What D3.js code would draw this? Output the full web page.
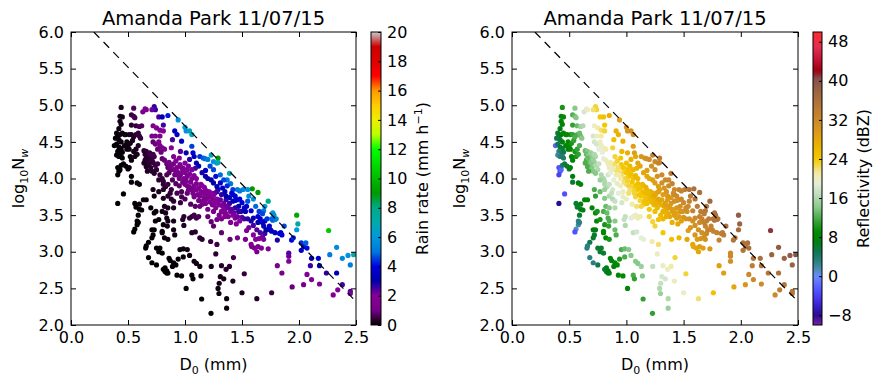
<!DOCTYPE html>
<html>
<head>
<meta charset="utf-8">
<script src="https://cdn.jsdelivr.net/npm/d3@7"></script>
<style>
body { margin: 0; background: #fff; }
svg text { font-family: "DejaVu Sans", sans-serif; fill: #000; }
</style>
</head>
<body>
<div id="chart"></div>
<script>
// rows: [D0 (mm), log10 Nw, rain rate (mm/h), reflectivity (dBZ)]
const leftColumn = [
  [0.44,4.97,0.25,10],[0.43,4.85,0.17,8],[0.45,4.84,0.2,9],[0.43,4.78,0.14,8],[0.44,4.74,0.14,8],
  [0.42,4.68,0.1,7],[0.40,4.62,0.07,6],[0.41,4.58,0.07,6],[0.43,4.60,0.1,7],[0.45,4.62,0.12,8],
  [0.47,4.60,0.14,9],[0.39,4.55,0.05,5],[0.42,4.53,0.07,6],[0.44,4.50,0.08,7],[0.38,4.45,0.04,-2],
  [0.40,4.47,0.05,5],[0.42,4.43,0.06,6],[0.44,4.41,0.07,6],[0.41,4.37,0.04,3],[0.43,4.35,0.05,4],
  [0.45,4.36,0.07,5],[0.40,4.32,0.04,2],[0.42,4.30,0.04,3],[0.44,4.30,0.05,4],[0.47,4.45,0.1,8],
  [0.49,4.50,0.14,9],[0.50,4.45,0.13,9],[0.52,4.48,0.17,10],[0.54,4.52,0.23,11],[0.49,4.40,0.11,8],
  [0.51,4.40,0.13,9],[0.51,4.60,0.21,10],[0.48,4.60,0.16,9],[0.53,4.60,0.25,11],[0.55,4.57,0.28,12],
  [0.41,4.15,0.03,-3],[0.42,4.10,0.03,-3],[0.41,4.05,0.02,-4],[0.43,4.12,0.03,-2],[0.44,4.18,0.04,4],
  [0.46,4.20,0.05,5],[0.48,4.17,0.06,6],[0.50,4.13,0.06,6],[0.51,4.15,0.07,7],[0.46,3.79,0.02,-3],
  [0.41,3.66,0.01,-8],[0.53,4.03,0.07,7],[0.53,3.95,0.06,6],[0.58,3.94,0.08,7],[0.60,3.92,0.1,8],
  [0.56,4.30,0.17,10],[0.55,4.37,0.18,10],[0.57,4.40,0.22,11],[0.59,4.45,0.3,12],[0.58,4.33,0.2,11],
  [0.45,4.28,0.06,4],[0.52,4.30,0.11,8],[0.53,4.25,0.11,8]
];

const upperLeft = [
  [0.55,4.96,0.69,14],[0.53,4.87,0.47,12],[0.55,4.85,0.54,13],[0.56,4.83,0.56,14],[0.53,4.73,0.34,11],
  [0.57,4.72,0.47,13],[0.60,4.71,0.59,15],[0.62,4.72,0.69,16],[0.65,4.95,1.5,19],[0.63,4.91,1.2,18],
  [0.66,4.94,1.5,20],[0.57,4.60,0.35,12],[0.60,4.58,0.44,13],[0.61,4.55,0.44,14],[0.59,4.62,0.44,13]
];

const darkCluster = [
  [0.64,4.38,0.36,13],[0.66,4.37,0.42,14],[0.65,4.33,0.35,13],[0.67,4.32,0.4,14],[0.69,4.35,0.49,15],
  [0.70,4.30,0.47,15],[0.68,4.28,0.39,14],[0.72,4.33,0.56,16],[0.73,4.30,0.56,16],[0.65,4.25,0.3,12],
  [0.67,4.22,0.32,13],[0.68,4.19,0.32,13],[0.66,4.16,0.26,12],[0.70,4.15,0.33,14],[0.72,4.22,0.44,15],
  [0.74,4.18,0.46,16],[0.75,4.12,0.43,16],[0.76,4.20,0.55,17],[0.71,4.10,0.32,14],[0.73,4.07,0.33,14],
  [0.69,4.22,0.36,14],[0.71,4.26,0.46,15],[0.66,4.28,0.34,13],[0.64,4.21,0.25,12],[0.67,4.10,0.24,12],
  [0.78,4.05,0.43,16],[0.80,4.00,0.44,16],[0.77,3.98,0.35,15],[0.81,3.96,0.42,16],[0.81,3.92,0.38,16],
  [0.83,3.89,0.4,16],[0.85,3.92,0.48,17],[0.88,3.85,0.48,18],[0.72,3.85,0.19,12],[0.73,3.76,0.16,11],
  [0.77,3.82,0.24,13],[0.81,3.85,0.32,15],[0.81,3.73,0.25,14],[0.85,3.76,0.33,16],[0.87,3.80,0.41,17],
  [0.88,3.72,0.35,16],[0.90,3.69,0.37,17],[0.82,3.62,0.2,13],[0.85,3.60,0.23,14],[0.90,3.60,0.3,16],
  [0.96,3.67,0.48,18]
];

const lowerLeft = [
  [0.56,3.66,0.04,6],[0.57,3.61,0.04,6],[0.60,3.58,0.04,7],[0.62,3.57,0.05,7],[0.60,3.65,0.05,7],
  [0.59,3.50,0.03,6],[0.58,3.42,0.03,3],[0.58,3.37,0.02,2],[0.56,3.31,0.02,1],[0.55,3.27,0.01,-3],
  [0.635,3.71,0.08,8],[0.66,3.71,0.09,9],[0.59,3.40,0.03,3]
];

const blackTail = [
  [0.70,3.60,0.09,8],[0.73,3.53,0.1,9],[0.745,3.55,0.11,10],[0.80,3.55,0.15,12],[0.83,3.53,0.17,13],
  [0.84,3.46,0.16,12],[0.85,3.42,0.15,12],[0.74,3.42,0.08,8],[0.77,3.44,0.1,10],[0.81,3.37,0.11,10],
  [0.845,3.35,0.13,11],[0.90,3.42,0.2,14],[0.90,3.30,0.15,13],[0.91,3.23,0.13,12],[0.71,3.30,0.05,7],
  [0.73,3.30,0.06,7],[0.72,3.23,0.04,6],[0.71,3.19,0.04,6],[0.68,3.13,0.03,5],[0.66,3.08,0.02,3],
  [0.655,3.05,0.02,3],[0.68,2.92,0.02,3],[0.71,2.85,0.02,3],[0.75,2.82,0.02,5],[0.75,3.05,0.04,6],
  [0.77,3.00,0.04,6],[0.78,3.05,0.04,6],[0.80,2.98,0.04,6],[0.80,3.28,0.08,9],[0.80,3.26,0.08,9],
  [0.82,3.19,0.08,9],[0.85,3.17,0.09,10],[0.86,2.91,0.05,8],[0.87,2.88,0.05,8],[0.90,2.85,0.05,8],
  [0.89,2.80,0.05,8],[0.825,2.78,0.03,7],[0.825,2.73,0.03,6],[0.84,2.71,0.03,7],[0.85,2.71,0.03,7],
  [0.81,2.76,0.03,6],[0.84,2.74,0.03,7],[0.97,2.67,0.05,9],[0.956,3.03,0.11,12],[0.985,3.04,0.13,13],
  [1.02,3.03,0.14,14],[1.04,2.95,0.13,14],[0.985,2.93,0.1,12],[1.08,2.87,0.13,14],[1.10,2.84,0.13,14],
  [1.13,2.80,0.14,15],[1.14,2.67,0.11,14],[1.06,2.68,0.08,12],[1.07,2.63,0.07,11],[1.01,2.50,0.04,8],
  [1.146,2.355,0.05,11],[1.228,2.16,0.05,11],[0.93,2.68,0.04,8],[0.92,2.82,0.06,9],[0.94,2.90,0.07,10]
];

const lowerScatter = [
  [0.99,3.48,0.35,17],[0.98,3.44,0.31,17],[0.99,3.36,0.27,16],[1.06,3.48,0.49,20],[1.04,3.46,0.43,19],
  [1.10,3.46,0.55,20],[1.06,3.26,0.3,17],[1.09,3.27,0.34,18],[1.13,3.19,0.34,19],[1.15,3.17,0.35,19],
  [1.20,3.48,0.87,23],[1.23,3.41,0.83,23],[1.25,3.35,0.78,23],[1.225,3.14,0.44,21],[1.28,3.10,0.49,22],
  [1.32,3.26,0.81,24],[1.395,3.17,0.85,25],[1.46,3.19,1.1,26],[1.27,2.97,0.35,20],[1.425,2.92,0.54,23],
  [1.52,2.70,0.44,23],[1.23,2.80,0.2,17],[1.32,2.81,0.29,20],[1.39,2.80,0.36,21],[1.36,2.76,0.3,20],
  [1.31,2.66,0.2,18],[1.34,2.63,0.2,18],[1.42,2.60,0.25,20],[1.30,2.57,0.15,17],[1.29,2.50,0.13,16],
  [1.298,2.43,0.11,15],[1.365,2.23,0.09,15],[1.365,2.36,0.12,16],[1.50,2.44,0.22,20],[1.63,2.36,0.28,22],
  [1.76,2.44,0.48,25]
];

const purpleTail = [
  [1.54,3.29,1.8,29],[1.53,3.17,1.3,28],[1.60,3.23,1.9,30],[1.63,3.30,2.4,31],[1.66,3.26,2.4,31],
  [1.585,3.07,1.2,28],[1.61,3.05,1.3,28],[1.64,3.07,1.4,29],[1.67,3.05,1.5,29],[1.73,3.04,1.7,30],
  [1.63,3.00,1.2,28],[1.62,3.17,1.7,29],[1.69,3.17,2.1,31],[1.81,2.81,1.3,29],[1.85,2.71,1.1,29],
  [1.91,2.98,2.4,32],[1.91,2.94,2.2,32],[1.91,2.87,1.9,31],[1.94,2.52,0.9,28],[2.04,2.55,1.2,30],
  [2.07,2.69,1.8,32],[2.11,2.62,1.7,32],[2.10,2.81,2.6,34],[2.18,2.56,1.7,32],[2.30,2.41,1.5,32],
  [2.34,2.48,2.0,34],[2.38,2.55,2.5,35],[2.45,2.46,2.3,35],[2.45,2.43,2.1,35],
  [1.56,3.33,2.1,30],[1.60,3.36,2.5,31],[1.58,3.10,1.3,28],[1.65,3.18,1.9,30],[1.68,3.20,2.2,31],
  [1.70,3.25,2.6,32]
];

const nearLine = [
  [1.935,3.16,3.9,35],[1.95,3.19,4.3,35],[2.02,3.12,4.4,36],[2.04,3.07,4.1,35],[2.06,3.12,4.8,36],
  [2.07,3.05,4.1,36],[2.02,3.02,3.5,35],[2.11,2.91,3.2,35],[2.17,2.91,3.7,36],[2.18,2.81,3.0,35],
  [2.24,2.71,2.7,35],[2.33,2.71,3.2,36],[2.27,2.96,5.1,38],[2.33,3.06,5.6,39],[2.38,2.91,5.5,38],
  [2.43,2.95,5.8,39],[2.45,2.82,5.2,38],[2.48,2.96,7.0,40],[2.26,3.29,10.5,41],
  [1.98,3.50,9.5,39],[1.99,3.38,7.2,38],[1.98,3.30,6.0,37]
];

const blueCluster = [
  [1.70,3.42,3.8,33],[1.69,3.35,3.2,33],[1.71,3.30,3.0,32],[1.74,3.35,3.6,33],[1.76,3.28,3.3,33],
  [1.79,3.26,3.4,33],[1.81,3.16,2.8,33],[1.84,3.26,3.8,34],[1.85,3.23,3.7,34],[1.87,3.35,4.6,36],
  [1.77,3.43,4.8,35],[1.79,3.44,5.1,35],[1.77,3.53,6.0,36],[1.70,3.62,6.0,35],[1.69,3.56,5.2,35],
  [1.64,3.48,3.7,33],[1.60,3.46,3.2,32],[1.58,3.56,3.8,33],[1.55,3.69,4.7,33],[1.54,3.62,3.8,32],
  [1.50,3.67,3.8,32],[1.47,3.62,3.1,31],[1.49,3.55,2.8,31],[1.53,3.55,3.2,31],[1.73,3.69,7.8,37],
  [1.59,3.86,9.0,36],[1.64,3.81,9.0,36],[1.55,3.85,5.8,35],[1.51,3.85,5.6,34],[1.46,3.85,5.1,33],
  [1.48,3.83,5.1,33],[1.42,3.85,4.5,32],[1.41,3.80,3.9,31],[1.44,3.76,3.9,32],[1.39,3.74,3.2,30],
  [1.36,3.71,2.6,29],[1.39,3.66,2.6,30],[1.42,3.69,3.1,31],[1.46,3.71,3.7,32],
  [1.83,3.25,3.7,34],[1.72,3.30,3.1,33],[1.75,3.30,3.4,33],[1.68,3.40,3.5,33],
  [1.40,3.93,5.0,33],[1.42,3.78,3.8,32],[1.32,3.78,2.7,29],[1.36,3.76,3.0,30],[1.44,3.70,3.4,31],
  [1.48,3.72,3.9,32],[1.56,3.76,5.6,34],[1.60,3.72,5.8,35],[1.62,3.62,4.9,34],[1.65,3.55,4.5,34],
  [1.68,3.52,4.6,34],[1.72,3.45,4.4,34],[1.66,3.45,3.7,33],[1.64,3.40,3.1,32],[1.78,3.50,5.8,36],
  [1.80,3.45,5.4,35],[1.76,3.45,4.9,35]
];

const upperBand = [
  [0.73,4.98,2.7,23],[0.74,4.94,2.6,23],[0.71,4.94,2.2,22],[0.77,4.84,2.5,24],[0.80,4.84,3.0,25],
  [0.85,4.86,4.2,27],[0.94,4.80,5.8,29],[0.81,4.73,2.5,24],[0.72,4.72,1.4,20],[0.75,4.69,1.6,21],
  [0.78,4.66,1.7,22],[0.81,4.65,2.0,23],[0.71,4.58,1.0,18],[0.74,4.58,1.1,20],[0.78,4.58,1.4,21],
  [0.91,4.65,3.5,27],[0.93,4.60,3.5,27],[1.00,4.70,6.2,30],[1.01,4.65,5.8,30],[1.04,4.65,6.6,31],
  [1.06,4.60,6.5,31],[0.97,4.51,3.5,27],[0.89,4.53,2.5,25],[0.72,4.50,0.83,18],[0.74,4.47,0.9,18],
  [0.77,4.50,1.1,20],[0.78,4.45,1.1,20],[0.80,4.42,1.1,20],[0.82,4.40,1.2,21],[0.76,4.40,0.87,19],
  [0.79,4.36,0.93,19],[0.88,4.42,1.8,23],[0.96,4.37,2.4,26],[1.06,4.44,4.5,29],[1.01,4.35,2.9,27],
  [1.07,4.35,3.8,29],[1.08,4.30,3.5,28],[1.04,4.26,2.7,27],[1.00,4.21,2.0,25],[1.03,4.17,2.1,26],
  [0.985,4.14,1.6,24],[0.956,4.19,1.5,24],[1.13,4.30,4.4,30],[1.16,4.28,4.7,30],[1.175,4.27,4.9,31],
  [1.20,4.26,5.2,31],[1.23,4.32,6.8,33],[1.25,4.23,5.9,32],[1.28,4.21,6.3,33],[1.29,4.28,9.0,34],
  [1.29,4.22,6.8,33],[1.10,4.21,3.1,28],[1.12,4.17,3.1,28],[1.09,4.14,2.5,27],[1.39,4.07,6.8,34],
  [1.37,3.98,5.1,32],[1.34,3.98,4.6,32],[1.31,4.05,4.9,32],[1.27,4.03,4.1,31],[1.25,4.12,4.6,31],
  [1.22,4.17,4.6,31],[1.18,4.11,3.5,29],[1.15,4.08,2.8,28],[1.18,4.03,2.9,28],[1.20,4.00,2.9,28],
  [1.23,3.98,3.1,29],[1.25,3.94,3.0,29],[1.28,3.89,3.0,29],[1.29,3.85,2.9,29],[1.31,3.94,3.8,31],
  [1.33,3.87,3.5,30],[1.37,3.90,4.3,32],[1.35,3.82,3.3,30],[1.28,3.82,2.6,29],[1.26,3.80,2.3,28]
];

const ridge = [
  [0.80,4.27,0.81,19],[0.82,4.25,0.87,20],[0.84,4.20,0.87,20],[0.86,4.22,1.0,21],[0.88,4.18,1.0,21],
  [0.85,4.15,0.81,20],[0.87,4.12,0.85,20],[0.90,4.12,1.0,21],[0.92,4.10,1.0,22],[0.94,4.08,1.1,22],
  [0.96,4.05,1.1,22],[0.98,4.10,1.4,23],[1.00,4.08,1.5,24],[0.93,4.15,1.2,22],[0.97,4.15,1.5,24],
  [1.02,4.03,1.4,24],[1.04,4.06,1.7,25],[1.06,4.00,1.6,25],[1.08,4.04,1.9,26],[1.10,4.00,1.9,26],
  [0.99,4.00,1.2,23],[0.95,4.00,1.0,21],[0.91,4.05,0.9,21],[0.89,3.98,0.69,19],[0.92,3.93,0.71,20],
  [0.98,3.95,1.0,22],[1.00,3.92,1.0,22],[1.02,3.90,1.1,23],[1.04,3.88,1.1,23],[1.06,3.85,1.1,23],
  [1.08,3.90,1.4,24],[1.10,3.85,1.3,24],[1.12,3.87,1.5,25],[1.14,3.82,1.5,25],[1.16,3.80,1.5,26],
  [1.18,3.84,1.9,26],[1.20,3.78,1.7,26],[1.22,3.75,1.7,27],[1.19,3.72,1.4,26],[1.24,3.72,1.7,27],
  [1.26,3.70,1.8,27],[1.28,3.72,2.0,28],[1.15,3.90,1.9,26],[1.10,3.93,1.6,25],[0.95,3.90,0.78,20],
  [1.05,3.95,1.4,24],[1.13,3.76,1.3,24],[1.17,3.74,1.4,25],[1.21,3.82,2.0,27],[1.23,3.80,2.0,27],
  [1.25,3.77,2.0,28],[1.29,3.68,1.9,28],[1.31,3.71,2.2,28],[1.30,3.64,1.8,27],[1.33,3.62,1.9,28],
  [1.35,3.58,1.9,28],[1.38,3.60,2.2,29],[1.40,3.55,2.1,29],[1.36,3.52,1.7,28],[1.38,3.48,1.7,28],
  [1.42,3.50,2.0,29],[1.44,3.46,1.9,29],[1.46,3.48,2.2,29],[1.50,3.47,2.4,30],[1.52,3.45,2.5,30],
  [1.55,3.45,2.7,31],[1.48,3.42,2.0,29],[1.32,3.45,1.3,26],[1.35,3.48,1.5,27],[1.28,3.44,1.1,25],
  [1.30,3.50,1.3,26],[1.25,3.55,1.2,25],[1.20,3.58,1.1,24],[1.12,3.48,0.63,21],[1.08,3.50,0.56,20],
  [1.15,3.65,1.0,24],[1.05,3.65,0.69,21],[1.00,3.72,0.65,20],[1.02,3.80,0.85,22],[0.97,3.82,0.71,20],
  [1.08,3.75,1.0,23],[1.12,3.70,1.0,23],[1.40,3.40,1.5,27],[1.45,3.38,1.7,28],[1.58,3.42,2.8,31],
  [1.52,3.60,3.5,32],[1.47,3.55,2.6,30],[1.44,3.60,2.7,30],[1.34,3.66,2.2,29],[1.27,3.60,1.5,26],
  [0.84,4.05,0.62,18],[0.86,4.08,0.72,19],[0.90,4.20,1.2,22],[0.92,4.24,1.4,23],[0.95,4.28,1.9,24],
  [0.90,4.30,1.5,23],[0.93,4.05,1.0,21],[1.01,3.97,1.2,23],[1.03,3.84,1.0,22],[1.07,3.80,1.1,23],
  [1.11,3.78,1.2,24],[1.14,3.92,1.9,26],[1.17,3.88,1.9,27],[1.19,3.80,1.7,26],[1.22,3.68,1.5,26],
  [1.24,3.64,1.4,26],[1.26,3.66,1.7,27],[1.18,3.66,1.2,25],[1.32,3.55,1.6,27],[1.34,3.54,1.7,27],
  [1.37,3.62,2.2,29],[1.41,3.58,2.3,29],[1.43,3.53,2.2,29],[1.06,4.12,2.1,26],[1.02,4.12,1.8,25],
  [0.97,3.75,0.6,20],[0.93,3.80,0.55,19],[1.16,3.70,1.2,25],[1.13,3.62,0.91,23],[1.09,3.62,0.76,22]
];

// dashed reference line end points
const lineD0 = [0.2, 2.5];
const lineNw = [6.0, 2.32];

const xTicks = [0.0, 0.5, 1.0, 1.5, 2.0, 2.5];
const yTicks = [2.0, 2.5, 3.0, 3.5, 4.0, 4.5, 5.0, 5.5, 6.0];
const rainTicks = [0, 2, 4, 6, 8, 10, 12, 14, 16, 18, 20];
const dbzTicks = [-8, 0, 8, 16, 24, 32, 40, 48];

// nipy_spectral colormap
const nipyStops = d3.range(0, 1.0001, 0.05);
const nipyColors = ["#000000","#770088","#880099","#0000aa","#0000dd","#0077dd","#0099dd",
  "#00aaaa","#00aa88","#009900","#00bb00","#00dd00","#00ff00","#bbff00","#eeee00","#ffcc00",
  "#ff9900","#ff0000","#dd0000","#cc0000","#cccccc"];

// reflectivity colormap
const reflStops = [-10,-8,-6,-3,0,1.5,3,5,7,9,11,14,17,19,21,24,27,30,34,38,40.5,42,44,47,50];
const reflColors = ["#7a22a8","#2a0c90","#3a20d0","#5050ff","#6a8cff","#4a8cb0","#2a8080",
  "#107850","#007f10","#008a00","#30a030","#88c888","#c4e0c0","#e4eed8","#f2eaa8","#f4c800",
  "#eab000","#d8961e","#bd7c34","#9a6440","#845050","#a00010","#c01030","#e43050","#ff2a2a"];

const allPoints = [].concat(leftColumn, upperLeft, darkCluster, lowerLeft, blackTail,
  lowerScatter, purpleTail, nearLine, blueCluster, upperBand, ridge);

const W = 886, H = 386;
const plotTop = 32, plotBottom = 325;

const rainScale = d3.scaleLinear()
    .domain(nipyStops.map(t => t * 20))
    .range(nipyColors)
    .clamp(true);

const reflScale = d3.scaleLinear()
    .domain(reflStops)
    .range(reflColors)
    .clamp(true);

const panels = [
  {x0: 71, x1: 356, cb0: 371, cb1: 381, value: d => d[2], color: rainScale,
   domain: [0, 20], ticks: rainTicks, label: "rain"},
  {x0: 512, x1: 798, cb0: 813, cb1: 822, value: d => d[3], color: reflScale,
   domain: [-10, 50], ticks: dbzTicks, label: "refl"}
];

const svg = d3.select("#chart").append("svg")
    .attr("width", W)
    .attr("height", H);

const defs = svg.append("defs");

panels.forEach(function (p, i) {
  const x = d3.scaleLinear().domain([0, 2.5]).range([p.x0, p.x1]);
  const y = d3.scaleLinear().domain([2, 6]).range([plotBottom, plotTop]);

  defs.append("clipPath").attr("id", "clip" + i)
    .append("rect")
    .attr("x", p.x0).attr("y", plotTop)
    .attr("width", p.x1 - p.x0).attr("height", plotBottom - plotTop);

  const g = svg.append("g");

  // scatter points
  g.append("g")
    .attr("clip-path", "url(#clip" + i + ")")
    .selectAll("circle")
    .data(allPoints)
    .enter()
    .append("circle")
    .attr("cx", d => x(d[0]))
    .attr("cy", d => y(d[1]))
    .attr("r", 2.6)
    .attr("fill", d => p.color(p.value(d)));

  // dashed line
  const line = d3.line()
    .x(d => x(d[0]))
    .y(d => y(d[1]));

  g.append("path")
    .attr("clip-path", "url(#clip" + i + ")")
    .datum(lineD0.map((d, k) => [d, lineNw[k]]))
    .attr("d", line)
    .attr("fill", "none")
    .attr("stroke", "#000")
    .attr("stroke-width", 1.2)
    .attr("stroke-dasharray", "8,6");

  // axes (ticks inward on all four sides)
  const fmt = d3.format(".1f");
  const axes = [
    g.append("g").attr("transform", "translate(0," + plotBottom + ")")
      .call(d3.axisBottom(x).tickValues(xTicks).tickSize(-5).tickPadding(7).tickFormat(fmt)),
    g.append("g").attr("transform", "translate(0," + plotTop + ")")
      .call(d3.axisTop(x).tickValues(xTicks).tickSize(-5).tickFormat("")),
    g.append("g").attr("transform", "translate(" + p.x0 + ",0)")
      .call(d3.axisLeft(y).tickValues(yTicks).tickSize(-5).tickPadding(7).tickFormat(fmt)),
    g.append("g").attr("transform", "translate(" + p.x1 + ",0)")
      .call(d3.axisRight(y).tickValues(yTicks).tickSize(-5).tickFormat(""))
  ];
  axes.forEach(function (a) {
    a.select(".domain").remove();
    a.attr("font-family", null).attr("font-size", null);
    a.selectAll("line").attr("stroke", "#000");
    a.selectAll("text").style("font-size", "16px");
  });

  g.append("rect")
    .attr("x", p.x0).attr("y", plotTop)
    .attr("width", p.x1 - p.x0).attr("height", plotBottom - plotTop)
    .attr("fill", "none").attr("stroke", "#000").attr("stroke-width", 1);

  // title
  g.append("text")
    .attr("x", (p.x0 + p.x1) / 2)
    .attr("y", 25)
    .attr("text-anchor", "middle")
    .style("font-size", "19.5px")
    .text("Amanda Park 11/07/15");

  // x label
  const xl = g.append("text")
    .attr("x", (p.x0 + p.x1) / 2)
    .attr("y", 370)
    .attr("text-anchor", "middle")
    .style("font-size", "16px");
  xl.append("tspan").text("D");
  xl.append("tspan").attr("dy", 4).style("font-size", "11px").text("0");
  xl.append("tspan").attr("dy", -4).text(" (mm)");

  // y label
  const yl = g.append("text")
    .attr("transform", "translate(" + (p.x0 - 47) + "," + ((plotTop + plotBottom) / 2) + ") rotate(-90)")
    .attr("text-anchor", "middle")
    .style("font-size", "16px");
  yl.append("tspan").text("log");
  yl.append("tspan").attr("dy", 4).style("font-size", "11px").text("10");
  yl.append("tspan").attr("dy", -4).text("N");
  yl.append("tspan").attr("dy", 4).style("font-size", "11px").style("font-style", "italic").text("w");

  // colorbar
  const cbScale = d3.scaleLinear().domain(p.domain).range([plotBottom, plotTop]);
  const grad = defs.append("linearGradient")
    .attr("id", "grad" + i)
    .attr("x1", 0).attr("y1", 1).attr("x2", 0).attr("y2", 0);
  d3.range(0, 101).forEach(function (k) {
    const v = p.domain[0] + (p.domain[1] - p.domain[0]) * k / 100;
    grad.append("stop").attr("offset", k + "%").attr("stop-color", p.color(v));
  });
  g.append("rect")
    .attr("x", p.cb0).attr("y", plotTop)
    .attr("width", p.cb1 - p.cb0).attr("height", plotBottom - plotTop)
    .attr("fill", "url(#grad" + i + ")")
    .attr("stroke", "#000").attr("stroke-width", 1);

  const cbAxis = g.append("g")
    .attr("transform", "translate(" + p.cb1 + ",0)")
    .call(d3.axisRight(cbScale).tickValues(p.ticks).tickSize(-3).tickPadding(6).tickFormat(d3.format("d")));
  cbAxis.select(".domain").remove();
  cbAxis.attr("font-family", null).attr("font-size", null);
  cbAxis.selectAll("line").attr("stroke", "#000");
  cbAxis.selectAll("text").style("font-size", "16px");

  const cl = g.append("text")
    .attr("transform", "translate(" + (p.cb1 + 47) + "," + ((plotTop + plotBottom) / 2) + ") rotate(-90)")
    .attr("text-anchor", "middle")
    .style("font-size", "16px");
  if (p.label === "rain") {
    cl.append("tspan").text("Rain rate (mm h");
    cl.append("tspan").attr("dy", -6).style("font-size", "11px").text("\u22121");
    cl.append("tspan").attr("dy", 6).text(")");
  } else {
    cl.text("Reflectivity (dBZ)");
  }
});
</script>
</body>
</html>
